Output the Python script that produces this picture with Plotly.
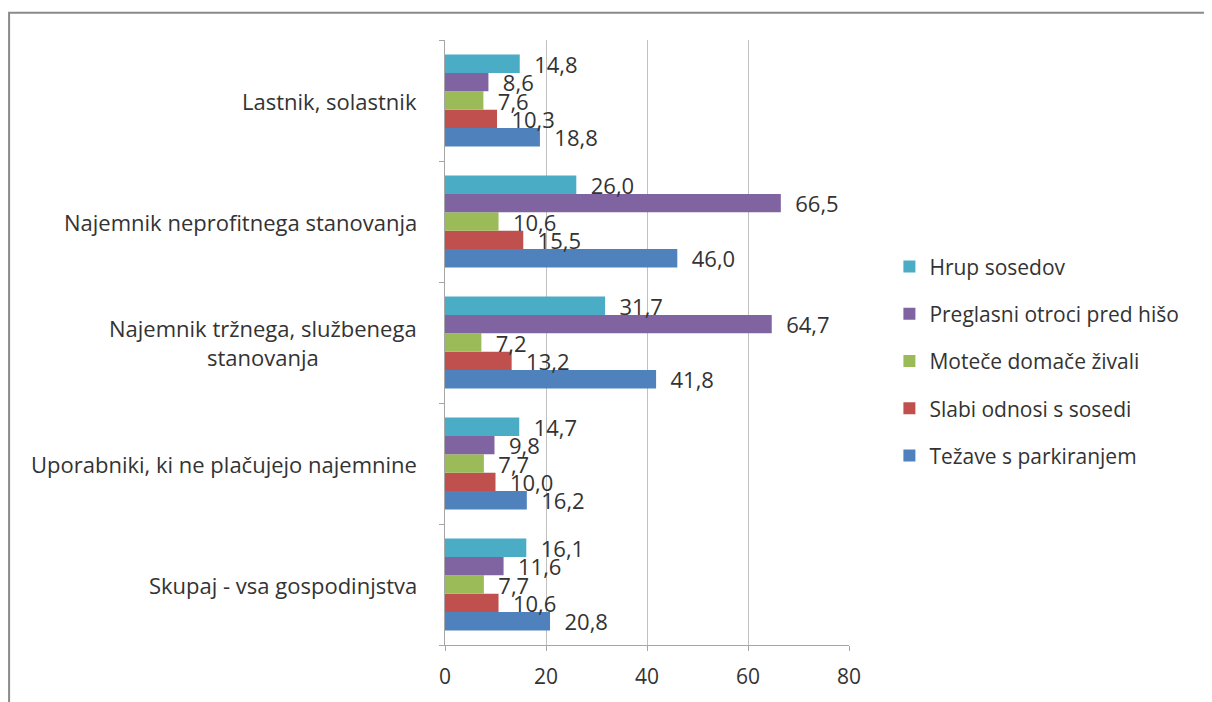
import plotly.graph_objects as go

# categories bottom -> top (plotly draws the first category at the bottom)
categories = [
  "Skupaj - vsa gospodinjstva",
  "Uporabniki, ki ne plačujejo najemnine",
  "Najemnik tržnega, službenega<br>stanovanja",
  "Najemnik neprofitnega stanovanja",
  "Lastnik, solastnik",
]

parkiranje = [20.8, 16.2, 41.8, 46.0, 18.8]
odnosi = [10.6, 10.0, 13.2, 15.5, 10.3]
zivali = [7.7, 7.7, 7.2, 10.6, 7.6]
otroci = [11.6, 9.8, 64.7, 66.5, 8.6]
hrup = [16.1, 14.7, 31.7, 26.0, 14.8]

series = [
  ("Težave s parkiranjem", parkiranje, "#4F81BD"),
  ("Slabi odnosi s sosedi", odnosi, "#C0504D"),
  ("Moteče domače živali", zivali, "#9BBB59"),
  ("Preglasni otroci pred hišo", otroci, "#8064A2"),
  ("Hrup sosedov", hrup, "#4BACC6"),
]

FONT = "Open Sans"
TXT = "#333333"

fig = go.Figure()
for i, (name, vals, color) in enumerate(series):
  fig.add_trace(go.Bar(
    y=categories,
    x=vals,
    orientation="h",
    name=name,
    legendgroup=str(i),
    legendrank=len(series) - i,
    marker=dict(color=color, line=dict(width=0)),
    text=["\u00a0\u00a0" + f"{v:.1f}".replace(".", ",") for v in vals],
    textposition="outside",
    constraintext="none",
    cliponaxis=False,
    textfont=dict(family=FONT, size=22, color=TXT),
    hoverinfo="skip",
  ))

# category labels as annotations so the two-line label is centred like the original
for c in categories:
  fig.add_annotation(
    x=0, xref="paper", y=c, yref="y",
    text=c, showarrow=False,
    xanchor="right", xshift=-26, align="center",
    font=dict(family=FONT, size=22, color=TXT),
  )

# outer frame of the chart
fig.add_shape(
  type="rect", xref="paper", yref="paper",
  x0=-1.079, x1=2.0, y0=-0.3, y1=1.045,
  line=dict(color="#8a8a8a", width=2),
  layer="below",
)

fig.update_layout(
  width=1212,
  height=702,
  margin=dict(l=437, r=371, t=32, b=65),
  paper_bgcolor="white",
  plot_bgcolor="white",
  barmode="group",
  bargap=0.24,
  bargroupgap=0,
  font=dict(family=FONT, color=TXT),
  showlegend=True,
  legend=dict(
    x=1.10, y=0.469, xanchor="left", yanchor="middle",
    traceorder="grouped",
    tracegroupgap=17,
    font=dict(family=FONT, size=21, color=TXT),
    itemwidth=30,
  ),
  xaxis=dict(
    range=[0, 80],
    tickvals=[0, 20, 40, 60, 80],
    showgrid=True, gridcolor="#c0c0c0", gridwidth=1,
    zeroline=False,
    showline=True, linecolor="#a6a6a6", linewidth=1,
    ticks="outside", ticklen=5, tickcolor="#a6a6a6",
    ticklabelstandoff=8,
    tickfont=dict(family=FONT, size=21, color=TXT),
    fixedrange=True,
  ),
  yaxis=dict(
    showticklabels=False,
    showline=True, linecolor="#a6a6a6", linewidth=1,
    ticks="outside", ticklen=5, tickcolor="#a6a6a6",
    tickson="boundaries",
    showgrid=False,
    fixedrange=True,
  ),
)

fig.write_html("out.html")
